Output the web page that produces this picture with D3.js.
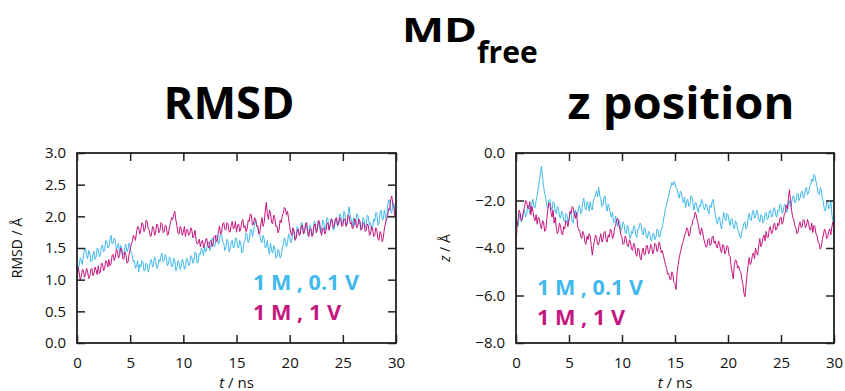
<!DOCTYPE html>
<html>
<head>
<meta charset="utf-8">
<script src="https://cdn.jsdelivr.net/npm/d3@7"></script>
<style>
  body { margin: 0; background: #fff; }
  text { font-family: "Open Sans", "DejaVu Sans", sans-serif; }
</style>
</head>
<body>
<svg id="mainSvg" width="845" height="391"></svg>
<script>
// sampling step of the trajectories, ns
var timeStep = 0.1;

var rmsdTicks = [0.0, 0.5, 1.0, 1.5, 2.0, 2.5, 3.0];
var zTicks = [-8.0, -6.0, -4.0, -2.0, 0.0];
var timeTicks = [0, 5, 10, 15, 20, 25, 30];

var seriesNames = ["1 M , 0.1 V", "1 M , 1 V"];
var seriesColors = ["#42b9ec", "#c4177f"];

// RMSD, 0.1 V  (one row = 1 ns)
var rmsdLow = [
  1.05, 1.18, 1.22, 1.34, 1.30, 1.24, 1.38, 1.48, 1.50, 1.38,
  1.33, 1.46, 1.42, 1.28, 1.30, 1.40, 1.45, 1.32, 1.36, 1.50,
  1.48, 1.36, 1.40, 1.52, 1.55, 1.44, 1.47, 1.62, 1.60, 1.50,
  1.52, 1.64, 1.70, 1.56, 1.58, 1.66, 1.62, 1.48, 1.50, 1.58,
  1.42, 1.54, 1.50, 1.38, 1.40, 1.52, 1.56, 1.44, 1.48, 1.58,
  1.52, 1.42, 1.38, 1.28, 1.30, 1.18, 1.22, 1.30, 1.12, 1.24,
  1.20, 1.30, 1.28, 1.14, 1.15, 1.26, 1.24, 1.12, 1.18, 1.30,
  1.32, 1.20, 1.24, 1.36, 1.30, 1.18, 1.20, 1.32, 1.28, 1.38,
  1.42, 1.28, 1.30, 1.40, 1.35, 1.22, 1.25, 1.36, 1.32, 1.20,
  1.22, 1.34, 1.30, 1.14, 1.18, 1.30, 1.26, 1.16, 1.22, 1.32,
  1.28, 1.16, 1.20, 1.34, 1.32, 1.22, 1.25, 1.38, 1.35, 1.26,
  1.30, 1.44, 1.42, 1.26, 1.28, 1.42, 1.40, 1.50, 1.45, 1.38,
  1.52, 1.44, 1.48, 1.60, 1.58, 1.46, 1.52, 1.66, 1.62, 1.52,
  1.55, 1.70, 1.68, 1.56, 1.60, 1.74, 1.72, 1.60, 1.58, 1.46,
  1.50, 1.64, 1.60, 1.44, 1.48, 1.58, 1.62, 1.50, 1.52, 1.66,
  1.65, 1.52, 1.50, 1.62, 1.58, 1.42, 1.45, 1.58, 1.62, 1.74,
  1.70, 1.58, 1.62, 1.78, 1.80, 1.68, 1.75, 1.90, 1.95, 1.86,
  1.82, 1.74, 1.70, 1.60, 1.58, 1.70, 1.65, 1.50, 1.52, 1.62,
  1.48, 1.40, 1.58, 1.46, 1.42, 1.54, 1.50, 1.34, 1.36, 1.48,
  1.45, 1.34, 1.38, 1.50, 1.55, 1.66, 1.62, 1.52, 1.58, 1.72,
  1.70, 1.58, 1.62, 1.76, 1.78, 1.64, 1.68, 1.84, 1.82, 1.70,
  1.75, 1.90, 1.88, 1.74, 1.78, 1.90, 1.85, 1.70, 1.72, 1.86,
  1.82, 1.70, 1.75, 1.92, 1.90, 1.76, 1.80, 1.92, 1.86, 1.74,
  1.78, 1.94, 1.92, 1.78, 1.82, 1.98, 1.95, 1.80, 1.85, 1.96,
  1.90, 1.78, 1.80, 1.96, 1.95, 1.84, 1.88, 2.04, 2.02, 1.88,
  1.92, 2.08, 2.05, 1.86, 1.88, 2.04, 2.15, 2.00, 1.95, 1.84,
  1.98, 1.86, 1.88, 2.04, 2.02, 1.88, 1.92, 1.80, 1.85, 1.98,
  1.95, 1.82, 1.85, 2.02, 2.00, 1.86, 1.90, 1.78, 1.82, 1.96,
  1.92, 2.06, 2.05, 1.86, 1.88, 2.06, 2.10, 1.94, 1.95, 2.10,
  2.02, 1.92, 2.15, 2.26, 2.25, 2.08, 2.05, 2.22, 2.20, 2.00,
  2.05
];

// RMSD, 1 V
var rmsdHigh = [
  0.98, 1.20, 1.12, 1.00, 1.05, 1.16, 1.15, 1.04, 1.08, 1.18,
  1.12, 1.02, 1.05, 1.16, 1.18, 1.06, 1.10, 1.20, 1.15, 1.08,
  1.22, 1.10, 1.12, 1.26, 1.25, 1.14, 1.18, 1.30, 1.28, 1.20,
  1.32, 1.22, 1.25, 1.38, 1.40, 1.30, 1.35, 1.48, 1.45, 1.34,
  1.38, 1.50, 1.48, 1.34, 1.32, 1.44, 1.40, 1.26, 1.28, 1.40,
  1.48, 1.56, 1.60, 1.70, 1.68, 1.62, 1.75, 1.84, 1.82, 1.72,
  1.78, 1.90, 1.88, 1.76, 1.80, 1.94, 1.92, 1.80, 1.78, 1.68,
  1.70, 1.84, 1.82, 1.70, 1.75, 1.88, 1.85, 1.74, 1.78, 1.90,
  1.88, 1.74, 1.76, 1.86, 1.84, 1.70, 1.72, 1.84, 1.90, 1.98,
  1.95, 2.04, 2.08, 1.94, 1.85, 1.74, 1.72, 1.84, 1.80, 1.70,
  1.75, 1.84, 1.68, 1.78, 1.80, 1.70, 1.72, 1.82, 1.78, 1.66,
  1.70, 1.78, 1.62, 1.56, 1.58, 1.64, 1.52, 1.60, 1.62, 1.50,
  1.55, 1.64, 1.65, 1.54, 1.50, 1.60, 1.62, 1.52, 1.58, 1.68,
  1.70, 1.60, 1.62, 1.76, 1.85, 1.72, 1.75, 1.88, 1.90, 1.80,
  1.78, 1.90, 1.88, 1.76, 1.75, 1.86, 1.92, 1.80, 1.82, 1.92,
  1.75, 1.86, 1.88, 1.76, 1.80, 1.92, 1.95, 1.82, 1.85, 1.76,
  1.80, 1.94, 1.92, 2.04, 2.02, 1.86, 1.88, 1.98, 1.95, 1.84,
  1.85, 1.72, 1.75, 1.88, 1.98, 1.84, 1.90, 2.08, 2.22, 2.04,
  1.95, 2.10, 2.05, 1.90, 1.88, 2.02, 1.98, 1.84, 1.85, 1.74,
  1.78, 1.94, 1.90, 2.00, 2.05, 2.14, 2.12, 2.02, 2.08, 1.96,
  1.85, 1.74, 1.70, 1.82, 1.78, 1.62, 1.65, 1.76, 1.80, 1.70,
  1.72, 1.86, 1.85, 1.72, 1.75, 1.88, 1.90, 1.76, 1.68, 1.80,
  1.80, 1.68, 1.72, 1.86, 1.88, 1.74, 1.78, 1.94, 1.92, 1.78,
  1.70, 1.80, 1.82, 1.72, 1.75, 1.88, 1.90, 1.78, 1.85, 1.96,
  1.95, 1.82, 1.85, 1.96, 1.98, 1.86, 1.88, 1.98, 1.95, 1.84,
  1.85, 1.96, 1.95, 1.84, 1.88, 2.02, 2.00, 1.88, 1.90, 1.80,
  1.82, 1.96, 1.95, 1.82, 1.85, 1.96, 1.92, 1.78, 1.80, 1.90,
  1.88, 1.76, 1.78, 1.88, 1.85, 1.70, 1.72, 1.84, 1.80, 1.68,
  1.70, 1.82, 1.78, 1.64, 1.62, 1.76, 1.72, 1.60, 1.65, 1.80,
  1.88, 1.96, 1.98, 2.12, 2.10, 2.26, 2.32, 2.20, 2.15, 2.00,
  2.08
];

// z position, 0.1 V
var zLow = [
  -2.70, -3.00, -3.10, -2.70, -2.55, -2.90, -2.80, -2.50, -2.40, -2.70,
  -2.60, -2.25, -2.20, -2.55, -2.45, -2.10, -1.95, -2.30, -2.30, -2.00,
  -1.80, -1.50, -1.20, -0.85, -0.55, -1.00, -1.40, -1.70, -1.90, -2.20,
  -2.30, -2.00, -1.95, -2.30, -2.40, -2.05, -2.10, -2.45, -2.55, -2.25,
  -2.35, -2.65, -2.75, -2.45, -2.50, -2.85, -2.90, -2.55, -2.60, -2.95,
  -2.85, -2.50, -2.55, -2.90, -2.95, -2.55, -2.40, -2.70, -2.65, -2.30,
  -2.20, -2.55, -2.50, -2.05, -1.90, -2.30, -2.40, -2.05, -2.15, -2.45,
  -2.05, -2.30, -2.40, -2.00, -1.90, -1.75, -1.60, -1.85, -1.45, -1.80,
  -1.95, -2.25, -2.20, -1.85, -1.80, -2.20, -2.45, -2.15, -2.30, -2.55,
  -2.70, -2.50, -2.90, -2.95, -2.65, -2.85, -3.10, -2.80, -2.95, -3.25,
  -3.20, -2.90, -3.00, -3.35, -3.40, -3.05, -3.15, -3.50, -3.60, -3.30,
  -3.40, -3.05, -3.10, -3.45, -3.55, -3.20, -3.20, -2.95, -3.00, -3.35,
  -3.45, -3.15, -3.20, -3.55, -3.60, -3.30, -3.35, -3.65, -3.70, -3.40,
  -3.40, -3.65, -3.55, -3.20, -3.25, -3.55, -3.50, -3.20, -3.15, -2.85,
  -2.60, -2.35, -2.20, -1.95, -1.80, -1.55, -1.45, -1.25, -1.35, -1.20,
  -1.30, -1.45, -1.55, -1.75, -1.90, -1.60, -1.70, -1.95, -2.10, -1.85,
  -2.30, -2.05, -1.95, -2.25, -2.20, -1.80, -1.85, -2.15, -2.40, -2.10,
  -2.10, -2.35, -2.50, -2.20, -2.25, -1.95, -2.05, -2.30, -2.40, -2.15,
  -2.20, -2.45, -2.55, -2.20, -2.30, -2.05, -1.95, -2.30, -2.60, -2.85,
  -3.00, -2.70, -2.70, -3.05, -3.20, -2.80, -2.50, -2.75, -2.85, -2.55,
  -2.60, -2.90, -3.05, -2.75, -2.80, -3.10, -3.20, -2.85, -2.95, -3.20,
  -3.30, -3.50, -3.60, -3.30, -3.20, -2.95, -2.90, -3.20, -3.10, -2.75,
  -2.55, -2.80, -2.85, -2.50, -2.40, -2.75, -2.70, -2.40, -2.50, -2.80,
  -2.90, -2.60, -2.65, -2.95, -2.85, -2.55, -2.50, -2.80, -2.75, -2.45,
  -2.40, -2.70, -2.65, -2.35, -2.30, -2.60, -2.70, -2.40, -2.45, -2.15,
  -2.20, -2.55, -2.50, -2.20, -2.15, -2.50, -2.45, -2.15, -2.00, -2.25,
  -2.10, -1.85, -1.80, -2.10, -2.05, -1.75, -1.70, -2.00, -1.90, -1.65,
  -1.60, -1.90, -1.85, -1.55, -1.45, -1.75, -1.70, -1.40, -1.35, -1.10,
  -1.20, -0.90, -0.95, -1.20, -1.40, -1.70, -1.75, -1.45, -1.55, -1.90,
  -2.10, -2.40, -2.45, -2.10, -2.00, -2.35, -2.30, -2.00, -2.60, -2.85,
  -3.00
];

// z position, 1 V
var zHigh = [
  -3.90, -3.10, -2.80, -2.40, -2.55, -2.85, -2.75, -2.45, -2.30, -2.00,
  -2.05, -2.30, -2.35, -2.05, -2.60, -2.25, -2.45, -2.75, -2.85, -2.60,
  -3.00, -2.70, -2.75, -3.05, -3.20, -2.85, -2.90, -3.30, -3.25, -2.80,
  -2.40, -2.10, -2.15, -2.50, -2.70, -2.40, -2.95, -2.70, -3.15, -3.40,
  -3.30, -2.95, -3.05, -3.40, -3.45, -3.10, -3.20, -2.85, -2.90, -3.10,
  -2.80, -2.45, -2.55, -2.25, -2.30, -2.60, -2.75, -2.50, -3.00, -3.25,
  -3.25, -3.50, -3.60, -3.30, -3.40, -3.75, -3.85, -3.50, -3.65, -3.40,
  -3.50, -3.90, -4.30, -3.95, -3.70, -3.45, -3.55, -3.85, -3.85, -3.60,
  -3.40, -3.75, -3.65, -3.35, -3.30, -3.65, -3.75, -3.45, -3.55, -3.20,
  -3.25, -3.60, -3.50, -3.15, -3.05, -2.80, -2.75, -3.00, -3.20, -3.45,
  -3.55, -3.85, -3.80, -3.50, -3.60, -3.90, -3.95, -3.65, -3.75, -4.05,
  -4.10, -3.80, -3.90, -4.25, -4.35, -4.00, -4.05, -4.40, -4.50, -4.15,
  -4.00, -4.30, -4.25, -3.90, -3.90, -4.25, -4.15, -3.85, -3.95, -4.25,
  -4.10, -3.80, -3.85, -4.15, -4.05, -3.75, -3.90, -4.20, -4.10, -4.30,
  -4.50, -4.70, -4.85, -5.10, -5.05, -5.30, -5.35, -5.00, -5.10, -5.45,
  -5.50, -5.75, -5.00, -4.70, -4.40, -4.20, -4.00, -3.80, -3.70, -3.45,
  -3.40, -3.15, -3.20, -3.50, -3.45, -3.10, -3.05, -2.80, -2.75, -2.50,
  -2.60, -2.85, -3.00, -3.30, -3.45, -3.15, -3.30, -3.60, -3.75, -3.95,
  -3.95, -3.65, -3.60, -3.90, -3.85, -3.55, -3.50, -3.80, -3.70, -3.95,
  -4.00, -3.70, -3.80, -4.10, -4.20, -3.85, -3.90, -4.25, -4.15, -3.90,
  -3.95, -4.30, -4.35, -4.80, -5.05, -5.30, -4.70, -4.50, -4.55, -4.85,
  -4.75, -4.95, -5.00, -5.30, -5.50, -5.90, -6.05, -5.60, -5.10, -4.70,
  -4.40, -4.70, -4.60, -4.30, -4.20, -4.45, -4.00, -4.20, -4.30, -3.90,
  -3.60, -3.95, -3.85, -3.55, -3.45, -3.70, -3.30, -3.55, -3.55, -3.20,
  -3.10, -3.40, -3.35, -3.05, -2.95, -3.25, -3.20, -2.95, -3.05, -2.75,
  -2.70, -3.00, -2.90, -2.60, -2.50, -2.20, -2.35, -1.90, -1.55, -2.00,
  -2.40, -2.70, -2.80, -3.05, -3.15, -3.40, -3.35, -3.05, -2.90, -3.15,
  -3.10, -2.80, -2.85, -3.15, -3.05, -2.80, -2.95, -3.20, -3.25, -2.95,
  -3.35, -3.05, -3.10, -3.40, -3.50, -3.75, -3.80, -4.05, -3.95, -3.65,
  -3.45, -3.20, -3.30, -3.60, -3.55, -3.30, -3.20, -3.45, -3.10, -2.90,
  -3.40
];

var svg = d3.select("#mainSvg");

// main title with subscript
var title = svg.append("text")
  .attr("x", 402)
  .attr("y", 42)
  .style("font-weight", "bold");
title.append("tspan")
  .attr("font-size", 34)
  .attr("textLength", 75)
  .attr("lengthAdjust", "spacingAndGlyphs")
  .text("MD");
title.append("tspan")
  .attr("font-size", 30)
  .attr("x", 477)
  .attr("y", 63)
  .text("free");

function drawPanel(opt) {
  var width = opt.x1 - opt.x0,
      height = 343 - 153;

  var x = d3.scaleLinear().domain([0, 30]).range([0, width]);
  var y = d3.scaleLinear().domain(opt.domain).range([height, 0]);

  var g = svg.append("g")
    .attr("transform", "translate(" + opt.x0 + ",153)");

  // panel title
  svg.append("text")
    .attr("x", opt.titleX)
    .attr("y", 119)
    .attr("text-anchor", "middle")
    .attr("font-size", 45)
    .attr("font-weight", "bold")
    .attr("textLength", opt.titleLen)
    .attr("lengthAdjust", "spacingAndGlyphs")
    .text(opt.title);

  var line = d3.line()
    .x(function(d, i) { return x(i * timeStep); })
    .y(function(d) { return y(d); });

  g.append("defs").append("clipPath")
    .attr("id", "clip_" + opt.id)
    .append("rect")
    .attr("width", width)
    .attr("height", height);

  var lines = g.append("g").attr("clip-path", "url(#clip_" + opt.id + ")");
  opt.series.forEach(function(s, k) {
    lines.append("path")
      .datum(s)
      .attr("fill", "none")
      .attr("stroke", seriesColors[k])
      .attr("stroke-width", 1)
      .attr("stroke-linejoin", "round")
      .attr("d", line);
  });

  // axes, ticks pointing inward on all four sides
  var fmt = d3.format(".1f");
  g.append("g")
    .attr("class", "axis")
    .call(d3.axisLeft(y).tickValues(opt.ticks).tickSizeInner(-8).tickSizeOuter(0)
      .tickPadding(11).tickFormat(fmt));
  g.append("g")
    .attr("class", "axis")
    .attr("transform", "translate(" + width + ",0)")
    .call(d3.axisRight(y).tickValues(opt.ticks).tickSizeInner(-8).tickSizeOuter(0)
      .tickFormat(""));
  g.append("g")
    .attr("class", "axis")
    .attr("transform", "translate(0," + height + ")")
    .call(d3.axisBottom(x).tickValues(timeTicks).tickSizeInner(-8).tickSizeOuter(0)
      .tickPadding(14));
  g.append("g")
    .attr("class", "axis")
    .call(d3.axisTop(x).tickValues(timeTicks).tickSizeInner(-8).tickSizeOuter(0)
      .tickFormat(""));

  g.selectAll(".axis .domain").remove();
  g.selectAll(".axis line").attr("stroke", "#222").attr("stroke-width", 1.5);
  g.selectAll(".axis text")
    .attr("font-family", "'Open Sans', sans-serif")
    .attr("font-size", 15)
    .attr("fill", "#111");

  g.append("rect")
    .attr("width", width)
    .attr("height", height)
    .attr("fill", "none")
    .attr("stroke", "#222")
    .attr("stroke-width", 1.8);

  // axis labels
  var yl = g.append("text")
    .attr("transform", "translate(" + opt.yLabelX + "," + (height / 2) + ") rotate(-90)")
    .attr("text-anchor", "middle")
    .attr("font-size", 14)
    .attr("fill", "#111");
  if (opt.yItalic) {
    yl.append("tspan").style("font-style", "italic").text(opt.yItalic);
  }
  yl.append("tspan").text(opt.yLabel);

  var xl = g.append("text")
    .attr("x", width / 2)
    .attr("y", height + 45)
    .attr("text-anchor", "middle")
    .attr("font-size", 15)
    .attr("fill", "#111");
  xl.append("tspan").style("font-style", "italic").text("t");
  xl.append("tspan").text(" / ns");

  // legend
  seriesNames.forEach(function(name, k) {
    g.append("text")
      .attr("x", opt.legendX)
      .attr("y", opt.legendY + k * 30)
      .attr("font-size", 21)
      .attr("font-weight", "bold")
      .attr("fill", seriesColors[k])
      .attr("textLength", k === 0 ? 106 : 88)
      .attr("lengthAdjust", "spacingAndGlyphs")
      .text(name);
  });
}

drawPanel({
  id: "rmsd", x0: 77, x1: 396, domain: [0, 3], ticks: rmsdTicks,
  series: [rmsdLow, rmsdHigh],
  title: "RMSD", titleX: 229, titleLen: 131,
  yLabel: "RMSD / Å", yLabelX: -55,
  legendX: 176, legendY: 137
});

drawPanel({
  id: "z", x0: 516, x1: 834, domain: [-8, 0], ticks: zTicks,
  series: [zLow, zHigh],
  title: "z position", titleX: 681, titleLen: 227,
  yItalic: "z", yLabel: " / Å", yLabelX: -66,
  legendX: 21, legendY: 142
});
</script>
</body>
</html>
